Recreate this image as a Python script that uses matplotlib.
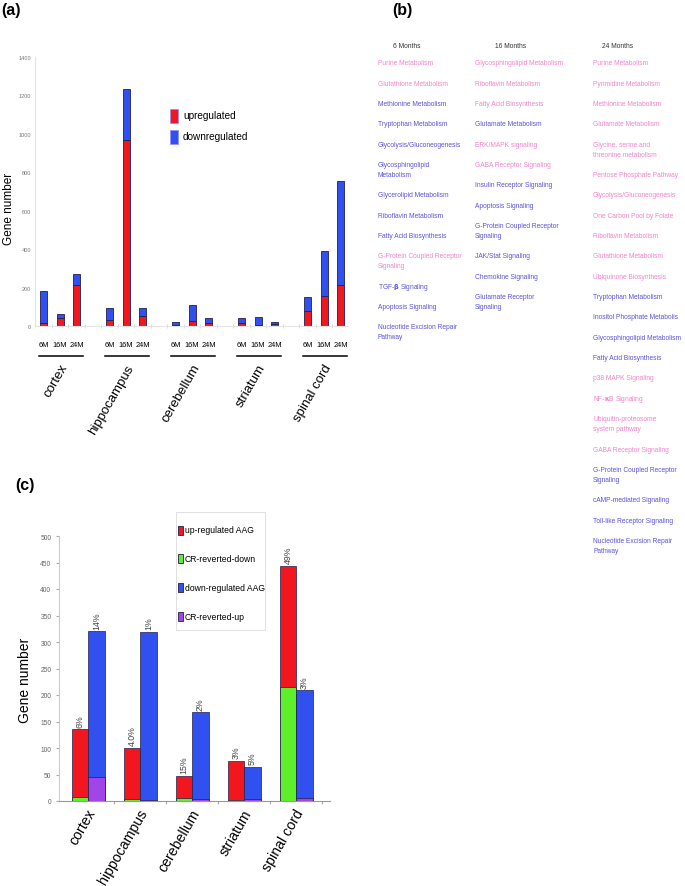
import matplotlib
matplotlib.use("Agg")
import matplotlib.pyplot as plt
import numpy as np
from matplotlib.patches import Rectangle

# ---- data ----
regions = ["cortex", "hippocampus", "cerebellum", "striatum", "spinal cord"]
ages = ["6M", "16M", "24M"]
# panel (a): gene numbers per region / age
up_a = [[15, 40, 214], [30, 966, 54], [3, 24, 16], [14, 3, 9], [80, 158, 215]]
total_a = [[184, 63, 271], [96, 1235, 96], [21, 109, 42], [40, 45, 23], [149, 389, 754]]
legend_a = ["upregulated", "downregulated"]

# panel (b): pathway lists (u = pink, d = blue)
headers_b = ["6 Months", "16 Months", "24 Months"]
paths_6m = ["Purine Metabolism", "Glutathione Metabolism", "Methionine Metabolism",
            "Tryptophan Metabolism", "Glycolysis/Gluconeogenesis",
            "Glycosphingolipid\nMetabolism", "Glycerolipid Metabolism",
            "Riboflavin Metabolism", "Fatty Acid Biosynthesis",
            "G-Protein Coupled Receptor\nSignaling", "TGF-$\\mathbf{\\beta}$ Signaling",
            "Apoptosis Signaling", "Nucleotide Excision Repair\nPathway"]
dirs_6m = ["u", "u", "d", "d", "d", "d", "d", "d", "d", "u", "d", "d", "d"]
paths_16m = ["Glycosphingolipid Metabolism", "Riboflavin Metabolism",
             "Fatty Acid Biosynthesis", "Glutamate Metabolism", "ERK/MAPK signaling",
             "GABA Receptor Signaling", "Insulin Receptor Signaling",
             "Apoptosis Signaling", "G-Protein Coupled Receptor\nSignaling",
             "JAK/Stat Signaling", "Chemokine Signaling", "Glutamate Receptor\nSignaling"]
dirs_16m = ["u", "u", "u", "d", "u", "u", "d", "d", "d", "d", "d", "d"]
paths_24m = ["Purine Metabolism", "Pyrimidine Metabolism", "Methionine Metabolism",
             "Glutamate Metabolism", "Glycine, serine and\nthreonine metabolism",
             "Pentose Phosphate Pathway", "Glycolysis/Gluconeogenesis",
             "One Carbon Pool by Folate", "Riboflavin Metabolism",
             "Glutathione Metabolism", "Ubiquinone Biosynthesis",
             "Tryptophan Metabolism", "Inositol Phosphate Metabolis",
             "Glycosphingolipid Metabolism", "Fatty Acid Biosynthesis",
             "p38 MAPK Signaling", "NF-$\\mathbf{\\kappa}$B Signaling",
             "Ubiquitin-proteosome\nsystem pathway", "GABA Receptor Signaling",
             "G-Protein Coupled Receptor\nSignaling", "cAMP-mediated Signaling",
             "Toll-like Receptor Signaling", "Nucleotide Excision Repair\nPathway"]
dirs_24m = ["u", "u", "u", "u", "u", "u", "u", "u", "u", "u", "u",
            "d", "d", "d", "d", "u", "u", "u", "u", "d", "d", "d", "d"]

# panel (c)
up_aag = [135, 100, 48, 76, 444]
cr_down = [7, 4, 6, 2, 216]
down_aag = [320, 319, 167, 64, 209]
cr_up = [45, 2, 4, 3, 5]
pct_up = ["6%", "4.0%", "15%", "3%", "49%"]
pct_down = ["14%", "1%", "2%", "5%", "3%"]
legend_c = ["up-regulated AAG", "CR-reverted-down", "down-regulated AAG", "CR-reverted-up"]

RED = "#f2161f"
BLUE = "#3050f0"
GREEN = "#5cef2a"
PURPLE = "#a244e8"
EDGE = "#20204a"
PINK_TXT = "#ef84c8"
BLUE_TXT = "#5a52dc"

plt.rcParams["font.family"] = ["Liberation Sans", "DejaVu Sans"]

W, H = 685, 887
fig = plt.figure(figsize=(W / 100, H / 100), dpi=100)


def fx(px):
    return px / W


def fy(py):
    return 1 - py / H


# ================= panel (a) =================
ax = fig.add_axes([fx(35), fy(327), fx(348) - fx(35), fy(58) - fy(327)])
up_a = np.array(up_a)
total_a = np.array(total_a)
down_a = total_a - up_a
xs = np.array([[g * 4 + j for j in range(3)] for g in range(len(regions))])
ax.bar(xs.ravel(), up_a.ravel(), width=0.42, color=RED, edgecolor=EDGE, lw=0.6)
ax.bar(xs.ravel(), down_a.ravel(), bottom=up_a.ravel(), width=0.42,
       color=BLUE, edgecolor=EDGE, lw=0.6)
ax.set_xlim(-0.52, 18.45)
ax.set_ylim(0, 1400)
ax.set_yticks(np.arange(0, 1401, 200))
ax.tick_params(axis="y", labelsize=4, colors="#777777", length=0, pad=3)
ax.set_xticks(np.arange(0.5, 18, 1))
ax.tick_params(axis="x", labelbottom=False, length=3, direction="inout",
               color="#dddddd")
for s in ["top", "right"]:
    ax.spines[s].set_visible(False)
ax.spines["left"].set_color("#e4e4e4")
ax.spines["bottom"].set_color("#e4e4e4")
ax.set_ylabel("Gene number", fontsize=8.5)
ax.yaxis.set_label_coords(-0.064, 0.44)

trans = ax.get_xaxis_transform()
for g, reg in enumerate(regions):
    for j, age in enumerate(ages):
        ax.text(xs[g, j], -0.07, age, transform=trans, ha="center", va="center",
                fontsize=5.3, clip_on=False)
    ax.plot([xs[g, 0] - 0.3, xs[g, 2] + 0.4], [-0.112, -0.112], transform=trans,
            color="black", lw=1.1, clip_on=False)
    ax.text(xs[g, 1] + 0.6, -0.133, reg, transform=trans, ha="right", va="top",
            rotation=60, fontsize=9.5, clip_on=False)

# legend (a)
for k, (lab, col) in enumerate(zip(legend_a, [RED, BLUE])):
    y0 = 110 + 21 * k
    fig.add_artist(Rectangle((fx(170), fy(y0 + 14)), fx(8), 14 / H, facecolor=col,
                             edgecolor="#8d8dff", lw=0.5, transform=fig.transFigure))
    fig.text(fx(183), fy(y0 + 6), lab, fontsize=7.2, ha="left", va="center")

# ================= panel (b) =================
cols_b = [(378, paths_6m, dirs_6m), (475, paths_16m, dirs_16m), (593, paths_24m, dirs_24m)]
head_x = [407, 511, 618]
for hx, hd in zip(head_x, headers_b):
    fig.text(fx(hx), fy(47), hd, ha="center", va="center", fontsize=4.8, color="#333333")
for x0, items, dirs in cols_b:
    extra = 0
    for i, (name, d) in enumerate(zip(items, dirs)):
        y0 = 63.7 + 20.35 * i + 10 * extra
        for k, line in enumerate(name.split("\n")):
            fig.text(fx(x0), fy(y0 + 10 * k), line, ha="left", va="center",
                     fontsize=4.8, color=PINK_TXT if d == "u" else BLUE_TXT)
        extra += name.count("\n")

# ================= panel (c) =================
axc = fig.add_axes([fx(59), fy(802), fx(330) - fx(59), fy(537) - fy(802)])
xc = np.arange(len(regions))
w = 0.317
axc.bar(xc - w / 2, up_aag, width=w, color=RED, edgecolor=EDGE, lw=0.5)
axc.bar(xc - w / 2, cr_down, width=w, color=GREEN, edgecolor=EDGE, lw=0.5)
axc.bar(xc + w / 2, down_aag, width=w, color=BLUE, edgecolor=EDGE, lw=0.5)
axc.bar(xc + w / 2, cr_up, width=w, color=PURPLE, edgecolor=EDGE, lw=0.5)
for i in range(len(regions)):
    axc.text(xc[i] - w / 2, up_aag[i] + 5, pct_up[i], rotation=90, ha="center",
             va="bottom", fontsize=6.3, color="#444444")
    axc.text(xc[i] + w / 2, down_aag[i] + 5, pct_down[i], rotation=90, ha="center",
             va="bottom", fontsize=6.3, color="#444444")
axc.set_xlim(-0.56, 4.65)
axc.set_ylim(0, 500)
axc.set_yticks(np.arange(0, 501, 50))
axc.tick_params(axis="y", labelsize=4.8, colors="#666666", length=2, color="#aaaaaa")
axc.set_xticks(np.arange(0.5, 4.6, 1))
axc.tick_params(axis="x", labelbottom=False, length=2, color="#aaaaaa")
for s in ["top", "right"]:
    axc.spines[s].set_visible(False)
axc.spines["left"].set_color("#cccccc")
axc.spines["bottom"].set_color("#999999")
axc.set_ylabel("Gene number", fontsize=10)
axc.yaxis.set_label_coords(-0.1, 0.46)
transc = axc.get_xaxis_transform()
for i, reg in enumerate(regions):
    axc.text(xc[i] + 0.2, -0.02, reg, transform=transc, ha="right", va="top",
             rotation=60, fontsize=10.2, clip_on=False)

# legend (c)
fig.add_artist(Rectangle((fx(176), fy(631)), fx(265) - fx(176), (631 - 513) / H,
                         facecolor="white", edgecolor="#dddddd", lw=0.6,
                         transform=fig.transFigure, zorder=5))
for k, (lab, col) in enumerate(zip(legend_c, [RED, GREEN, BLUE, PURPLE])):
    yc = 531 + 28.8 * k
    fig.add_artist(Rectangle((fx(178), fy(yc + 4.5)), fx(5), 9 / H, facecolor=col,
                             edgecolor=EDGE, lw=0.6, transform=fig.transFigure, zorder=6))
    fig.text(fx(185), fy(yc), lab, fontsize=6.2, ha="left", va="center", zorder=6)

# panel letters
fig.text(fx(1), fy(10), "(a)", fontsize=11.5, fontweight="bold", va="center", ha="left")
fig.text(fx(392), fy(10), "(b)", fontsize=11.5, fontweight="bold", va="center", ha="left")
fig.text(fx(15), fy(486), "(c)", fontsize=11.5, fontweight="bold", va="center", ha="left")

fig.savefig("out.png", dpi=100)
